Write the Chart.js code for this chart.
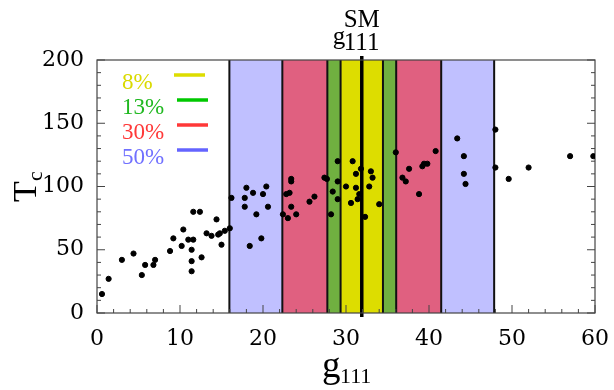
<!DOCTYPE html>
<html lang="en">
<head>
    <meta charset="UTF-8">
    <title>Tc vs g111</title>
    <script src="https://cdn.jsdelivr.net/npm/chart.js"></script>
    <style>
        html, body { margin: 0; padding: 0; background: #ffffff; }
        #wrap { width: 614px; height: 390px; position: relative; }
    </style>
</head>
<body>
    <div id="wrap"><canvas id="chart" width="614" height="390"></canvas></div>

    <script>
        // scatter data
        const g111 = [0.6, 1.4, 3.0, 4.4, 5.4, 5.8, 6.8, 7.0, 8.8, 9.2, 10.2, 10.4, 11.0, 11.4, 11.4, 11.4, 11.6, 11.6,
            12.4, 12.6, 13.2, 13.8, 14.4, 14.6, 14.8, 15.0, 15.4, 16.0, 16.2, 18.0, 17.8, 17.8, 18.8, 19.2, 20.0, 20.4,
            20.6, 19.8, 18.4, 22.4, 23.0, 23.4, 24.0, 22.8, 23.2, 23.4, 23.4, 25.6, 26.2, 27.4, 27.7, 28.2, 28.4, 29.0,
            29.0, 29.0, 30.0, 30.6, 30.8, 31.2, 31.2, 31.4, 31.6, 31.8, 32.3, 33.0, 33.2, 32.8, 34.0, 36.0, 36.8, 37.2,
            37.6, 38.8, 39.2, 39.4, 39.8, 40.8, 43.4, 44.2, 44.2, 44.4, 48.0, 48.0, 49.6, 52.0, 57.0, 59.8];
        const tc = [15, 27, 42, 47, 30, 38, 38, 42, 49, 59, 53, 66, 58, 50, 41, 33, 80, 58,
            80, 44, 63, 61, 74, 62, 63, 54, 65, 67, 91, 99, 91, 84, 95, 78, 94, 100,
            84, 59, 53, 78, 75, 84, 78, 94, 95, 104, 106, 88, 92, 107, 106, 78, 96, 90,
            104, 120, 100, 87, 120, 110, 99, 90, 94, 114, 76, 112, 107, 100, 86, 127, 107, 104,
            114, 94, 116, 118, 118, 128, 138, 124, 110, 102, 145, 115, 106, 115, 124, 124];

        // SM value and the percentage bands around it
        const smValue = 31.9;
        const bandPercents = [50, 30, 13, 8];
        const bandFills = ['#c0c0ff', '#e06080', '#70b040', '#dddd00'];
        const legendLabels = ['8%', '13%', '30%', '50%'];
        const legendTextColors = ['#dada00', '#20b820', '#ff3838', '#7070ff'];
        const legendLineColors = ['#dddd00', '#00c800', '#ff3838', '#6464ff'];

        const xTicks = [0, 10, 20, 30, 40, 50, 60];
        const yTicks = [0, 50, 100, 150, 200];

        const serif = "'Liberation Serif'";
        const tickFont = "'DejaVu Serif'";

        const decor = {
            id: 'decor',
            beforeDatasetsDraw(chart) {
                const {ctx, chartArea: a, scales: {x, y}} = chart;
                ctx.save();
                bandPercents.forEach((p, i) => {
                    const x1 = x.getPixelForValue(smValue * (1 - p / 100));
                    const x2 = x.getPixelForValue(smValue * (1 + p / 100));
                    ctx.fillStyle = bandFills[i];
                    ctx.fillRect(x1, a.top, x2 - x1, a.bottom - a.top);
                    ctx.strokeStyle = '#111';
                    ctx.lineWidth = 2;
                    ctx.beginPath();
                    ctx.moveTo(x1, a.top); ctx.lineTo(x1, a.bottom);
                    ctx.moveTo(x2, a.top); ctx.lineTo(x2, a.bottom);
                    ctx.stroke();
                });
                // SM line
                const xs = x.getPixelForValue(smValue);
                ctx.strokeStyle = '#000';
                ctx.lineWidth = 3.5;
                ctx.beginPath();
                ctx.moveTo(xs, a.top - 4); ctx.lineTo(xs, a.bottom + 4);
                ctx.stroke();

                // frame
                ctx.strokeStyle = '#444';
                ctx.lineWidth = 1.2;
                ctx.strokeRect(a.left, a.top, a.right - a.left, a.bottom - a.top);

                // inner ticks: left, right, bottom
                ctx.lineWidth = 1;
                ctx.beginPath();
                for (let v = 0; v <= 200; v += 10) {
                    const py = y.getPixelForValue(v);
                    const len = v % 50 === 0 ? 8 : 4;
                    ctx.moveTo(a.left, py); ctx.lineTo(a.left + len, py);
                    ctx.moveTo(a.right, py); ctx.lineTo(a.right - len, py);
                }
                for (let v = 0; v <= 60; v += 2) {
                    const px = x.getPixelForValue(v);
                    const len = v % 10 === 0 ? 8 : 4;
                    ctx.moveTo(px, a.bottom); ctx.lineTo(px, a.bottom - len);
                }
                ctx.stroke();
                ctx.restore();
            },
            afterDraw(chart) {
                const {ctx, chartArea: a, scales: {x}} = chart;
                ctx.save();
                ctx.textBaseline = 'alphabetic';

                // legend
                legendLabels.forEach((lab, i) => {
                    ctx.font = '23px ' + serif;
                    ctx.fillStyle = legendTextColors[i];
                    ctx.textAlign = 'left';
                    ctx.fillText(lab, a.left + 25, a.top + 29 + i * 25);
                    ctx.strokeStyle = legendLineColors[i];
                    ctx.lineWidth = 3.5;
                    ctx.beginPath();
                    const lx = a.left + (i === 0 ? 77 : 80);
                    ctx.moveTo(lx, a.top + 15 + i * 25);
                    ctx.lineTo(lx + 31, a.top + 15 + i * 25);
                    ctx.stroke();
                });

                ctx.fillStyle = '#000';
                // SM label above the plot
                const xs = x.getPixelForValue(smValue);
                ctx.font = '25px ' + serif;
                ctx.textAlign = 'center';
                ctx.fillText('SM', xs, 27);
                ctx.textAlign = 'left';
                ctx.fillText('g', xs - 29, 44);
                ctx.fillText('111', xs - 18, 50);

                // x title
                ctx.font = '37px ' + serif;
                ctx.fillText('g', 322, 377);
                ctx.font = '22px ' + serif;
                ctx.fillText('111', 340, 383);

                // y title, rotated
                ctx.translate(36, 202);
                ctx.rotate(-Math.PI / 2);
                ctx.font = '34px ' + serif;
                ctx.fillText('T', 0, 0);
                ctx.font = '22px ' + serif;
                ctx.fillText('c', 21, 6);
                ctx.restore();
            }
        };

        function draw() {
            new Chart(document.getElementById('chart'), {
                type: 'scatter',
                data: {
                    datasets: [{
                        data: g111.map((v, i) => ({x: v, y: tc[i]})),
                        backgroundColor: '#000',
                        borderColor: '#000',
                        pointRadius: 2.6,
                        pointHoverRadius: 2.6
                    }]
                },
                options: {
                    responsive: false,
                    animation: false,
                    devicePixelRatio: 1,
                    layout: {padding: {top: 60, right: 13, left: 0, bottom: 0}},
                    plugins: {legend: {display: false}, tooltip: {enabled: false}},
                    scales: {
                        x: {
                            type: 'linear', min: 0, max: 60,
                            afterFit: s => { s.height = 77; },
                            afterBuildTicks: s => { s.ticks = xTicks.map(v => ({value: v})); },
                            grid: {display: false},
                            border: {display: false},
                            ticks: {color: '#000', padding: 5, maxRotation: 0, font: {family: tickFont, size: 22}}
                        },
                        y: {
                            type: 'linear', min: 0, max: 200,
                            afterFit: s => { s.width = 97; },
                            afterBuildTicks: s => { s.ticks = yTicks.map(v => ({value: v})); },
                            grid: {display: false},
                            border: {display: false},
                            ticks: {color: '#000', padding: 5, font: {family: tickFont, size: 22}}
                        }
                    }
                },
                plugins: [decor]
            });
        }

        document.fonts.load("26px 'Liberation Serif'").then(draw, draw);
    </script>
</body>
</html>
